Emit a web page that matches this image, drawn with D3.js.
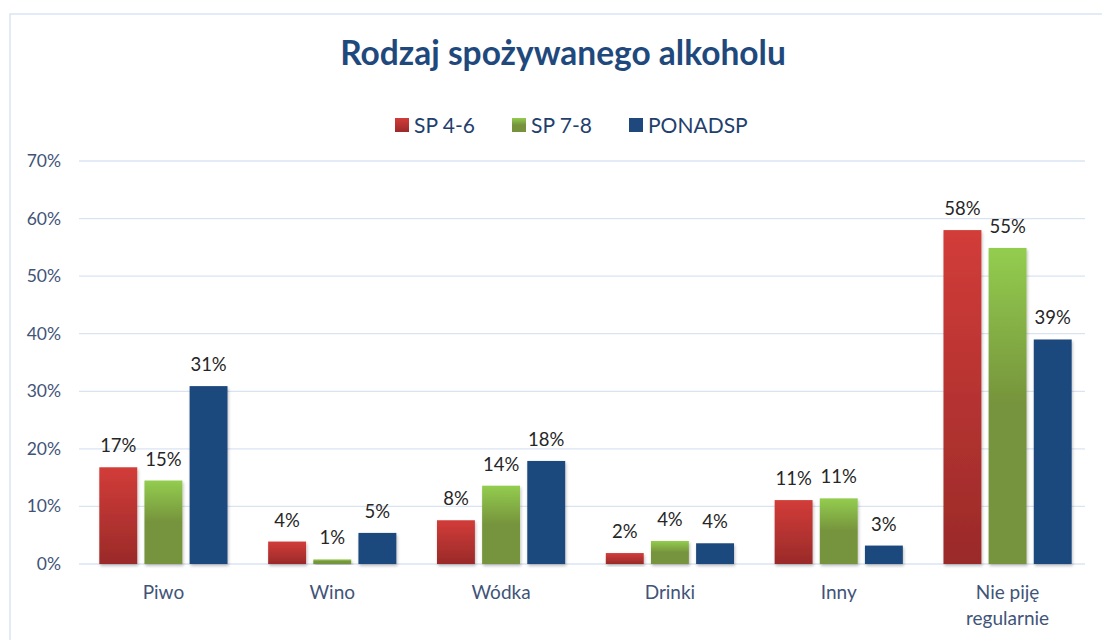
<html>
  <head>
    <meta charset="utf-8">
    <script src="https://cdnjs.cloudflare.com/ajax/libs/d3/7.9.0/d3.min.js"></script>
    <style>
      body { margin: 0; background: #fff; }
      text { font-family: Lato, "Open Sans", sans-serif; }
    </style>
  </head>
  <body onload="main()">
  </body>
  <script>
    const categories = ['Piwo', 'Wino', 'Wódka', 'Drinki', 'Inny', 'Nie piję regularnie']
    const seriesNames = ['SP 4-6', 'SP 7-8', 'PONADSP']
    const sp46 = [16.8, 3.9, 7.6, 1.9, 11.1, 58.0]
    const sp78 = [14.5, 0.8, 13.6, 4.0, 11.4, 54.9]
    const ponadsp = [30.9, 5.4, 17.9, 3.6, 3.2, 39.0]
    const yTicks = [0, 10, 20, 30, 40, 50, 60, 70]

    function main() {
      const width = 1102
      const height = 640
      const margin = { top: 161, left: 79, right: 10, bottom: 76 }
      const svg = d3.select('body')
        .append('svg')
        .attr('width', width)
        .attr('height', height)

      const defs = svg.append('defs')
      const grads = [
        { id: 'g0', stops: [['0%', '#d23c39'], ['100%', '#9a2a29']] },
        { id: 'g1', stops: [['0%', '#93cd4f'], ['50%', '#76933c'], ['100%', '#76933c']] },
        { id: 'g2', stops: [['0%', '#1f497d'], ['100%', '#1f497d']] }
      ]
      grads.forEach(g => {
        const lg = defs.append('linearGradient')
          .attr('id', g.id)
          .attr('x1', 0).attr('y1', 0).attr('x2', 0).attr('y2', 1)
        g.stops.forEach(s => lg.append('stop').attr('offset', s[0]).attr('stop-color', s[1]))
      })
      const shadow = defs.append('filter').attr('id', 'shadow')
        .attr('x', '-20%').attr('y', '-20%').attr('width', '140%').attr('height', '140%')
      shadow.append('feDropShadow')
        .attr('dx', 1).attr('dy', 2).attr('stdDeviation', 1.5)
        .attr('flood-color', '#000').attr('flood-opacity', 0.25)

      // chart frame
      svg.append('rect')
        .attr('x', 10).attr('y', 14)
        .attr('width', width + 20).attr('height', height + 20)
        .attr('fill', 'none')
        .attr('stroke', '#dae5f4')
        .attr('stroke-width', 1.5)

      svg.append('text')
        .attr('x', 563)
        .attr('y', 65)
        .attr('text-anchor', 'middle')
        .attr('font-size', 33.5)
        .attr('font-weight', 'bold')
        .attr('fill', '#1f497d')
        .text('Rodzaj spożywanego alkoholu')

      const x = d3.scaleBand()
        .domain(categories)
        .range([margin.left, width - margin.right])
      const x1 = d3.scaleBand()
        .domain(seriesNames)
        .range([0, x.bandwidth()])
        .paddingOuter(0.45)
        .paddingInner(0.16)
      const y = d3.scaleLinear()
        .domain([0, 70])
        .range([height - margin.bottom, margin.top])

      // gridlines
      svg.append('g')
        .selectAll('line')
        .data(yTicks)
        .enter()
        .append('line')
        .attr('x1', margin.left)
        .attr('x2', width - margin.right - 7)
        .attr('y1', d => y(d))
        .attr('y2', d => y(d))
        .attr('stroke', '#d9e4f3')
        .attr('stroke-width', 1.3)

      svg.append('g')
        .selectAll('text')
        .data(yTicks)
        .enter()
        .append('text')
        .attr('x', 61)
        .attr('y', d => y(d) + 6)
        .attr('text-anchor', 'end')
        .attr('font-size', 17.5)
        .attr('fill', '#3f5478')
        .text(d => d + '%')

      const series = [sp46, sp78, ponadsp]
      series.forEach((vals, si) => {
        const g = svg.append('g')
        g.selectAll('rect')
          .data(vals)
          .enter()
          .append('rect')
          .attr('x', (d, i) => x(categories[i]) + x1(seriesNames[si]))
          .attr('width', x1.bandwidth())
          .attr('y', d => y(d))
          .attr('height', d => y(0) - y(d))
          .attr('fill', `url(#g${si})`)
          .attr('filter', 'url(#shadow)')
        g.selectAll('text')
          .data(vals)
          .enter()
          .append('text')
          .attr('x', (d, i) => x(categories[i]) + x1(seriesNames[si]) + x1.bandwidth() / 2)
          .attr('y', d => y(d) - 15)
          .attr('text-anchor', 'middle')
          .attr('font-size', 18.5)
          .attr('fill', '#262626')
          .text(d => Math.round(d) + '%')
      })

      // category labels
      const cat = svg.append('g')
        .selectAll('text')
        .data(categories)
        .enter()
        .append('text')
        .attr('x', d => x(d) + x.bandwidth() / 2)
        .attr('y', 599)
        .attr('text-anchor', 'middle')
        .attr('font-size', 19)
        .attr('fill', '#3f5478')
      cat.each(function (d) {
        const words = d === 'Nie piję regularnie' ? ['Nie piję', 'regularnie'] : [d]
        words.forEach((w, i) => {
          d3.select(this).append('tspan')
            .attr('x', x(d) + x.bandwidth() / 2)
            .attr('dy', i === 0 ? 0 : 26)
            .text(w)
        })
      })

      // legend
      const legendX = [395, 512, 629]
      const legend = svg.append('g')
      seriesNames.forEach((s, i) => {
        legend.append('rect')
          .attr('x', legendX[i])
          .attr('y', 118)
          .attr('width', 14)
          .attr('height', 14)
          .attr('fill', `url(#g${i})`)
        legend.append('text')
          .attr('x', legendX[i] + 19)
          .attr('y', 133)
          .attr('font-size', 21)
          .attr('fill', '#1f3f6e')
          .text(s)
      })
    }
  </script>
</html>
